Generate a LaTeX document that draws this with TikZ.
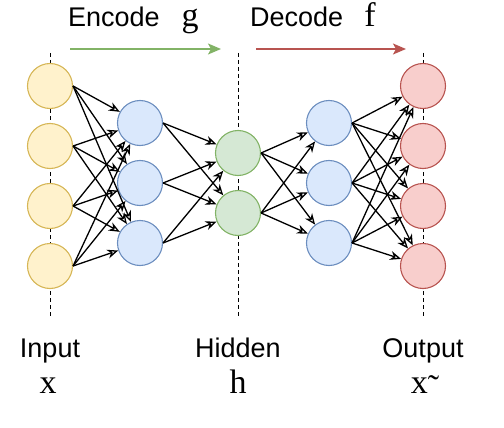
\documentclass[tikz,border=0pt]{standalone}
\usepackage{fontspec}
\setmainfont{Liberation Serif}
\setsansfont{Liberation Sans}
\usepackage{xcolor}
\usetikzlibrary{arrows.meta, positioning}

\definecolor{inpfill}{HTML}{FFF2CC}
\definecolor{inpline}{HTML}{D6B656}
\definecolor{encfill}{HTML}{DAE8FC}
\definecolor{encline}{HTML}{6C8EBF}
\definecolor{hidfill}{HTML}{D5E8D4}
\definecolor{hidline}{HTML}{82B366}
\definecolor{outfill}{HTML}{F8CECC}
\definecolor{outline}{HTML}{B85450}

\tikzset{
  neuron/.style={circle, draw, line width=1.1pt, minimum size=45pt, inner sep=0pt},
  inp/.style={neuron, fill=inpfill, draw=inpline},
  enc/.style={neuron, fill=encfill, draw=encline},
  hid/.style={neuron, fill=hidfill, draw=hidline},
  outp/.style={neuron, fill=outfill, draw=outline},
  link/.style={line width=1.3pt, -{Stealth[open, length=11pt, width=9pt, inset=3.5pt]}},
  guide/.style={line width=0.9pt, dash pattern=on 4pt off 3pt},
  flow/.style={line width=1.5pt, -{Stealth[length=13pt, width=11pt, inset=3pt]}},
  word/.style={font=\sffamily\fontsize{27}{30}\selectfont, inner sep=0pt, anchor=base},
  sym/.style={font=\fontsize{34}{38}\selectfont, inner sep=0pt, anchor=base},
}

\begin{document}
\begin{tikzpicture}[x=1pt, y=-1pt]
      \useasboundingbox (0,0) rectangle (504,428);

      % guide lines behind the layers
      \coordinate (gx_t) at (50,53);   \coordinate (gx_b) at (50,318);
      \coordinate (gh_t) at (238,53);  \coordinate (gh_b) at (238,318);
      \coordinate (gy_t) at (423,53);  \coordinate (gy_b) at (423,318);
      \draw[guide] (gx_t) -- (gx_b);
      \draw[guide] (gh_t) -- (gh_b);
      \draw[guide] (gy_t) -- (gy_b);

      % layers
      \node[inp] (x_1) at (50,86) {};
      \node[inp] (x_2) at (50,146) {};
      \node[inp] (x_3) at (50,206) {};
      \node[inp] (x_4) at (50,266) {};

      \node[enc] (e_1) at (140,123) {};
      \node[enc] (e_2) at (140,183) {};
      \node[enc] (e_3) at (140,243) {};

      \node[hid] (h_1) at (238,153) {};
      \node[hid] (h_2) at (238,213) {};

      \node[enc] (d_1) at (329,123) {};
      \node[enc] (d_2) at (329,183) {};
      \node[enc] (d_3) at (329,243) {};

      \node[outp] (y_1) at (423,86) {};
      \node[outp] (y_2) at (423,146) {};
      \node[outp] (y_3) at (423,206) {};
      \node[outp] (y_4) at (423,266) {};

      % weights
      \foreach \i in {1,...,4} \foreach \j in {1,2,3}
        \draw[link] (x_\i.east) -- (e_\j);
      \foreach \i in {1,2,3} \foreach \j in {1,2}
        \draw[link] (e_\i.east) -- (h_\j);
      \foreach \i in {1,2} \foreach \j in {1,2,3}
        \draw[link] (h_\i.east) -- (d_\j);
      \foreach \i in {1,2,3} \foreach \j in {1,...,4}
        \draw[link] (d_\i.east) -- (y_\j);

      % encode / decode
      \node[word, anchor=base west] (enc_l) at (68,27) {Encode};
      \node[sym] (enc_g) at (190,27) {g};
      \node[word, anchor=base west] (dec_l) at (250,27) {Decode};
      \node[sym] (dec_f) at (370,27) {f};
      \coordinate (enc_s) at (70,49);  \coordinate (enc_t) at (221,49);
      \coordinate (dec_s) at (256,49); \coordinate (dec_t) at (406,49);
      \draw[flow, draw=hidline, fill=hidline] (enc_s) -- (enc_t);
      \draw[flow, draw=outline, fill=outline] (dec_s) -- (dec_t);

      % captions
      \node[word] (cap_x) at (50,357) {Input};
      \node[sym] (sym_x) at (48,393) {x};
      \node[word] (cap_h) at (238,357) {Hidden};
      \node[sym] (sym_h) at (238,393) {h};
      \node[word] (cap_y) at (423,357) {Output};
      \node[sym] (sym_y) at (425,393) {x\raisebox{-5pt}{˜}};
    \end{tikzpicture}
\end{document}
